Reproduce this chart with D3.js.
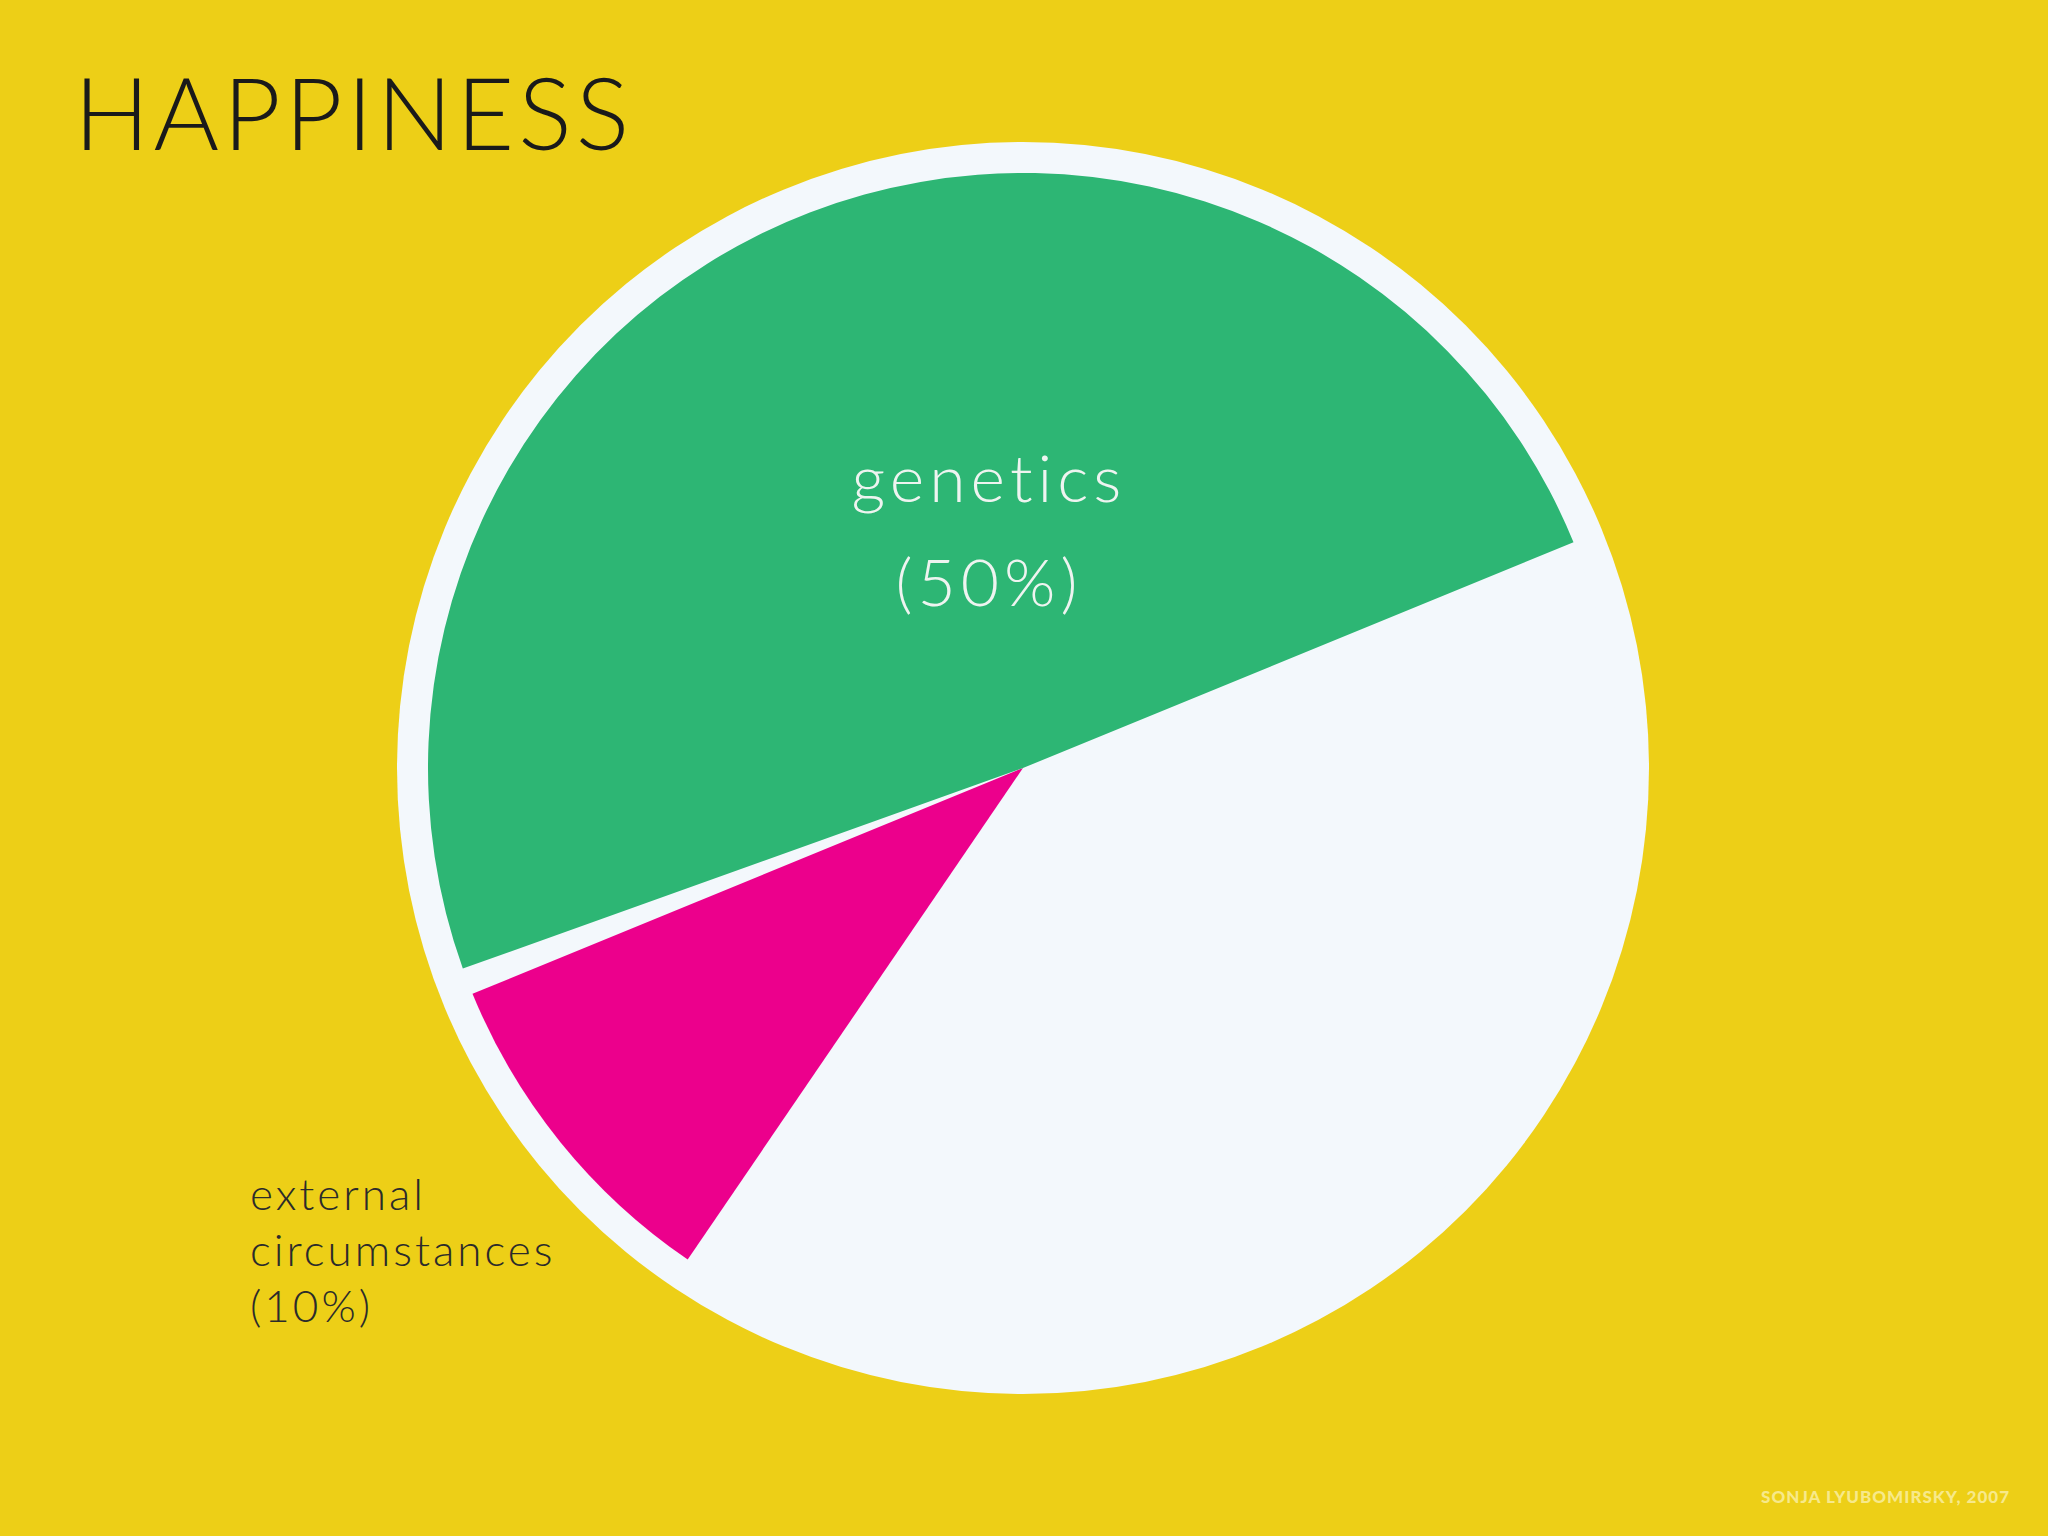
<!DOCTYPE html>
<html>
<head>
<meta charset="utf-8">
<script src="https://cdn.jsdelivr.net/npm/d3@7"></script>
<style>
  body { margin: 0; background: #edcf17; }
  text { font-family: Lato, "Open Sans", sans-serif; }
</style>
</head>
<body>
<div id="chart"></div>
<script>
// data
var categories = ["other", "external circumstances", "genetics"];
var shares = [40, 10, 50];
var colors = ["#f3f8fc", "#ec008c", "#2db674"];

var width = 2048, height = 1536;
var cx = 1023, cy = 768, outerR = 626, pieR = 595;

var svg = d3.select("#chart").append("svg")
    .attr("width", width)
    .attr("height", height);

svg.append("rect").attr("width", width).attr("height", height).attr("fill", "#edcf17");

// white disc behind the pie
svg.append("circle")
    .attr("cx", cx).attr("cy", cy).attr("r", outerR)
    .attr("fill", "#f3f8fc");

var pie = d3.pie()
    .sort(null)
    .startAngle(69 * Math.PI / 180)
    .endAngle(69 * Math.PI / 180 + 2 * Math.PI)
    .value(function (d) { return d; });

var arc = d3.arc()
    .innerRadius(0)
    .outerRadius(pieR)
    .padRadius(pieR)
    .padAngle(27 / pieR);

var g = svg.append("g").attr("transform", "translate(" + cx + "," + cy + ")");
g.selectAll("path")
    .data(pie(shares))
    .enter()
    .append("path")
        .attr("d", arc)
        .attr("fill", function (d, i) { return colors[i]; });

// title
svg.append("text")
    .attr("x", 74).attr("y", 150)
    .attr("font-size", 100).attr("font-weight", 300)
    .attr("letter-spacing", 4)
    .attr("fill", "#1a1a1a")
    .text("HAPPINESS");

// genetics label
svg.append("text")
    .attr("x", 989).attr("y", 502)
    .attr("text-anchor", "middle")
    .attr("font-size", 66).attr("font-weight", 300)
    .attr("letter-spacing", 5)
    .attr("fill", "#eef4f0")
    .text("genetics");
svg.append("text")
    .attr("x", 989).attr("y", 606)
    .attr("text-anchor", "middle")
    .attr("font-size", 66).attr("font-weight", 300)
    .attr("letter-spacing", 5)
    .attr("fill", "#eef4f0")
    .text("(" + shares[2] + "%)");

// external circumstances label
var extLines = ["external", "circumstances", "(" + shares[1] + "%)"];
svg.append("g").selectAll("text")
    .data(extLines)
    .enter()
    .append("text")
        .attr("x", 250)
        .attr("y", function (d, i) { return 1210 + i * 56; })
        .attr("font-size", 44).attr("font-weight", 300)
        .attr("letter-spacing", 3)
        .attr("fill", "#2b2b2b")
        .text(function (d) { return d; });

// source
svg.append("text")
    .attr("x", 2010).attr("y", 1503)
    .attr("text-anchor", "end")
    .attr("font-size", 17).attr("font-weight", 900)
    .attr("letter-spacing", 1)
    .attr("fill", "#f7e98a")
    .text("SONJA LYUBOMIRSKY, 2007");
</script>
</body>
</html>
